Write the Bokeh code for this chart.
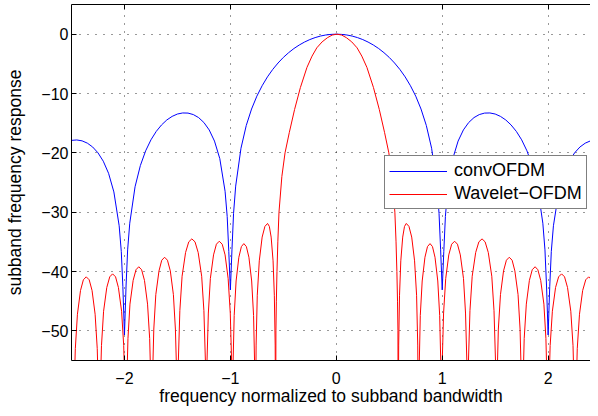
from bokeh.plotting import figure
from bokeh.models import Range1d, FixedTicker, LinearAxis, Legend, LegendItem
from bokeh.embed import file_html
from bokeh.resources import INLINE

# ---- data ----
blue_f = [-2.5, -2.45, -2.4, -2.35, -2.3, -2.25, -2.2, -2.15, -2.1, -2.05, -2.03, -2.015, -2.0, -1.985, -1.97, -1.95,
          -1.9, -1.85, -1.8, -1.75, -1.7, -1.65, -1.6, -1.55, -1.5, -1.45, -1.4, -1.35, -1.3, -1.25, -1.2, -1.15,
          -1.1, -1.05, -1.03, -1.015, -1.0, -0.985, -0.97, -0.95, -0.9, -0.85, -0.8, -0.75, -0.7, -0.65, -0.6,
          -0.55, -0.5, -0.45, -0.4, -0.35, -0.3, -0.25, -0.2, -0.15, -0.1, -0.05, 0.0,
          0.05, 0.1, 0.15, 0.2, 0.25, 0.3, 0.35, 0.4, 0.45, 0.5, 0.55, 0.6, 0.65, 0.7, 0.75, 0.8, 0.85, 0.9,
          0.95, 0.97, 0.985, 1.0, 1.015, 1.03, 1.05, 1.1, 1.15, 1.2, 1.25, 1.3, 1.35, 1.4, 1.45, 1.5, 1.55,
          1.6, 1.65, 1.7, 1.75, 1.8, 1.85, 1.9, 1.95, 1.97, 1.985, 2.0, 2.015, 2.03, 2.05, 2.1, 2.15, 2.2,
          2.25, 2.3, 2.35, 2.4, 2.45, 2.5]
blue_db = [-17.90, -17.83, -17.98, -18.37, -19.02, -20.00, -21.41, -23.45, -26.59, -32.29, -36.62, -42.57, -50.7,
           -42.44, -36.36, -31.86, -25.72, -22.15, -19.66, -17.81, -16.39, -15.30, -14.46, -13.86, -13.46, -13.28,
           -13.30, -13.55, -14.06, -14.89, -16.14, -18.02, -20.97, -26.48, -30.73, -36.61, -43.1, -36.35, -30.21,
           -25.61, -19.23, -15.39, -12.62, -10.45, -8.69, -7.20, -5.94, -4.86, -3.92, -3.12, -2.42, -1.83, -1.33,
           -0.91, -0.58, -0.32, -0.14, -0.04, 0.0,
           -0.04, -0.14, -0.32, -0.58, -0.91, -1.33, -1.83, -2.42, -3.12, -3.92, -4.86, -5.94, -7.20, -8.69,
           -10.45, -12.62, -15.39, -19.23, -25.61, -30.21, -36.35, -43.1, -36.61, -30.73, -26.48, -20.97, -18.02,
           -16.14, -14.89, -14.06, -13.55, -13.30, -13.28, -13.46, -13.86, -14.46, -15.30, -16.39, -17.81, -19.66,
           -22.15, -25.72, -31.86, -36.36, -42.44, -50.7, -42.57, -36.62, -32.29, -26.59, -23.45, -21.41, -20.00,
           -19.02, -18.37, -17.98, -17.83, -17.90]

red_f = [-2.5,
         -2.484, -2.477, -2.464, -2.444, -2.415, -2.388, -2.361, -2.333, -2.306, -2.277, -2.257, -2.244,
         -2.237, -2.230, -2.217, -2.197, -2.167, -2.139, -2.112, -2.084, -2.057, -2.027, -2.007, -1.994,
         -1.987, -1.979, -1.967, -1.948, -1.918, -1.891, -1.865, -1.838, -1.811, -1.782, -1.762, -1.750,
         -1.743, -1.735, -1.723, -1.704, -1.674, -1.648, -1.621, -1.594, -1.567, -1.538, -1.519, -1.506,
         -1.499, -1.491, -1.477, -1.456, -1.423, -1.393, -1.364, -1.334, -1.304, -1.271, -1.250, -1.236,
         -1.228, -1.221, -1.208, -1.189, -1.159, -1.132, -1.105, -1.077, -1.050, -1.021, -1.001, -0.988,
         -0.981, -0.975, -0.964, -0.946, -0.920, -0.896, -0.873, -0.849, -0.825, -0.799, -0.781, -0.771,
         -0.764, -0.757, -0.746, -0.727, -0.700, -0.674, -0.649, -0.632, -0.615, -0.597, -0.585, -0.577,
         -0.5725, -0.570, -0.566, -0.560, -0.552, -0.541, -0.514, -0.484, -0.444, -0.394, -0.339, -0.277,
         -0.229, -0.184, -0.134, -0.084, -0.039, 0.006, 0.051, 0.096, 0.146, 0.196, 0.241, 0.289, 0.351,
         0.406, 0.456, 0.496, 0.526, 0.553, 0.564, 0.572, 0.578, 0.582,
         0.5845, 0.589, 0.597, 0.609, 0.627, 0.644, 0.661, 0.686, 0.712, 0.739, 0.758, 0.769,
         0.776, 0.783, 0.793, 0.811, 0.837, 0.861, 0.885, 0.908, 0.932, 0.958, 0.976, 0.987,
         0.993, 1.000, 1.013, 1.033, 1.062, 1.089, 1.117, 1.144, 1.171, 1.201, 1.220, 1.233,
         1.240, 1.248, 1.262, 1.283, 1.316, 1.346, 1.376, 1.405, 1.435, 1.468, 1.489, 1.503,
         1.511, 1.518, 1.530, 1.550, 1.579, 1.606, 1.633, 1.660, 1.686, 1.716, 1.735, 1.747,
         1.755, 1.762, 1.774, 1.794, 1.823, 1.850, 1.877, 1.903, 1.930, 1.960, 1.979, 1.991,
         1.999, 2.006, 2.019, 2.040, 2.070, 2.099, 2.127, 2.155, 2.183, 2.214, 2.235, 2.247,
         2.255, 2.263, 2.275, 2.296, 2.326, 2.355, 2.383, 2.411, 2.439, 2.469, 2.490, 2.502, 2.51]
red_db = [-60,
          -70, -61.4, -53.0, -47.2, -43.2, -41.4, -40.9, -41.4, -43.2, -47.2, -53.0, -61.4,
          -70, -60.9, -52.5, -46.7, -42.7, -40.9, -40.4, -40.9, -42.7, -46.7, -52.5, -60.9,
          -70, -59.7, -51.3, -45.5, -41.5, -39.7, -39.2, -39.7, -41.5, -45.5, -51.3, -59.7,
          -70, -58.1, -49.7, -43.9, -39.9, -38.1, -37.6, -38.1, -39.9, -43.9, -49.7, -58.1,
          -70, -55.0, -46.6, -40.8, -36.8, -35.0, -34.5, -35.0, -36.8, -40.8, -46.6, -55.0,
          -70, -55.4, -47.0, -41.2, -37.2, -35.4, -34.9, -35.4, -37.2, -41.2, -47.0, -55.4,
          -70, -55.8, -47.4, -41.6, -37.6, -35.8, -35.3, -35.8, -37.6, -41.6, -47.4, -55.8,
          -70, -52.4, -44.0, -38.2, -34.2, -32.4, -31.9, -32.4, -34.2, -38.2, -44.0, -52.4,
          -70, -50, -45, -40, -35, -30, -24.0, -20.0, -16.6, -12.7, -9.0, -5.6,
          -3.7, -2.3, -1.3, -0.6, -0.15, 0.0, -0.15, -0.6, -1.3, -2.3, -3.7, -5.6, -9.0,
          -12.7, -16.6, -20.0, -24.0, -30, -35, -40, -45, -50,
          -70, -52.4, -44.0, -38.2, -34.2, -32.4, -31.9, -32.4, -34.2, -38.2, -44.0, -52.4,
          -70, -55.8, -47.4, -41.6, -37.6, -35.8, -35.3, -35.8, -37.6, -41.6, -47.4, -55.8,
          -70, -55.4, -47.0, -41.2, -37.2, -35.4, -34.9, -35.4, -37.2, -41.2, -47.0, -55.4,
          -70, -55.0, -46.6, -40.8, -36.8, -35.0, -34.5, -35.0, -36.8, -40.8, -46.6, -55.0,
          -70, -58.1, -49.7, -43.9, -39.9, -38.1, -37.6, -38.1, -39.9, -43.9, -49.7, -58.1,
          -70, -59.7, -51.3, -45.5, -41.5, -39.7, -39.2, -39.7, -41.5, -45.5, -51.3, -59.7,
          -70, -60.9, -52.5, -46.7, -42.7, -40.9, -40.4, -40.9, -42.7, -46.7, -52.5, -60.9,
          -70, -61.4, -53.0, -47.2, -43.2, -41.4, -40.9, -41.4, -43.2, -47.2, -53.0, -61.4, -70]

series_names = ["convOFDM", "Wavelet\u2212OFDM"]
x_ticks = [-2, -1, 0, 1, 2]
x_tick_labels = ["\u22122", "\u22121", "0", "1", "2"]
y_ticks = [-50, -40, -30, -20, -10, 0]
y_tick_labels = ["\u221250", "\u221240", "\u221230", "\u221220", "\u221210", "0"]
x_title = "frequency normalized to subband bandwidth"
y_title = "subband frequency response"

FONT = "Liberation Sans"

p = figure(width=590, height=408,
           x_range=Range1d(-2.5, 2.4), y_range=Range1d(-55, 5),
           output_backend="svg", toolbar_location=None,
           min_border_left=71, min_border_right=0, min_border_top=4, min_border_bottom=47)
p.outline_line_color = None
p.background_fill_color = "white"
p.border_fill_color = "white"

r_blue = p.line(blue_f, blue_db, line_color="#0000ff", line_width=1)
r_red = p.line(red_f, red_db, line_color="#ff0000", line_width=1)

xt = FixedTicker(ticks=x_ticks)
yt = FixedTicker(ticks=y_ticks)

xa = p.xaxis[0]
ya = p.yaxis[0]
xa.ticker = xt
ya.ticker = yt
xa.major_label_overrides = dict(zip(x_ticks, x_tick_labels))
ya.major_label_overrides = dict(zip(y_ticks, y_tick_labels))

top = LinearAxis(ticker=FixedTicker(ticks=x_ticks))
top.major_label_text_font_size = "0px"
top.major_label_text_color = None
top.major_label_standoff = 0
p.add_layout(top, "above")

for ax in (xa, ya, top):
    ax.axis_line_color = "black"
    ax.axis_line_width = 1
    ax.major_tick_line_color = "black"
    ax.major_tick_in = 5
    ax.major_tick_out = 0
    ax.minor_tick_line_color = None

for ax in (xa, ya):
    ax.major_label_text_font = FONT
    ax.major_label_text_font_size = "16px"
    ax.major_label_text_color = "black"
    ax.axis_label_text_font = FONT
    ax.axis_label_text_font_size = "17.5px"
    ax.axis_label_text_font_style = "normal"
    ax.axis_label_text_color = "black"

xa.axis_label = x_title
ya.axis_label = y_title
xa.major_label_standoff = 11
xa.axis_label_standoff = -1
ya.major_label_standoff = 3
ya.axis_label_standoff = 13

p.xgrid.ticker = xt
p.ygrid.ticker = yt
for g in (p.xgrid[0], p.ygrid[0]):
    g.grid_line_color = "black"
    g.grid_line_alpha = 0.8
    g.grid_line_dash = "1 7"
    g.grid_line_width = 1

legend = Legend(items=[LegendItem(label=series_names[0], renderers=[r_blue]),
                       LegendItem(label=series_names[1], renderers=[r_red])],
                location=(313, 151))
legend.label_text_font = FONT
legend.label_text_font_size = "18px"
legend.label_text_color = "black"
legend.border_line_color = "black"
legend.border_line_width = 1
legend.background_fill_color = "white"
legend.background_fill_alpha = 1
legend.padding = 4
legend.spacing = 2
legend.margin = 0
legend.glyph_width = 58
legend.glyph_height = 20
legend.label_height = 20
legend.label_standoff = 7
p.add_layout(legend)

open("out.html", "w").write(file_html(p, INLINE))
